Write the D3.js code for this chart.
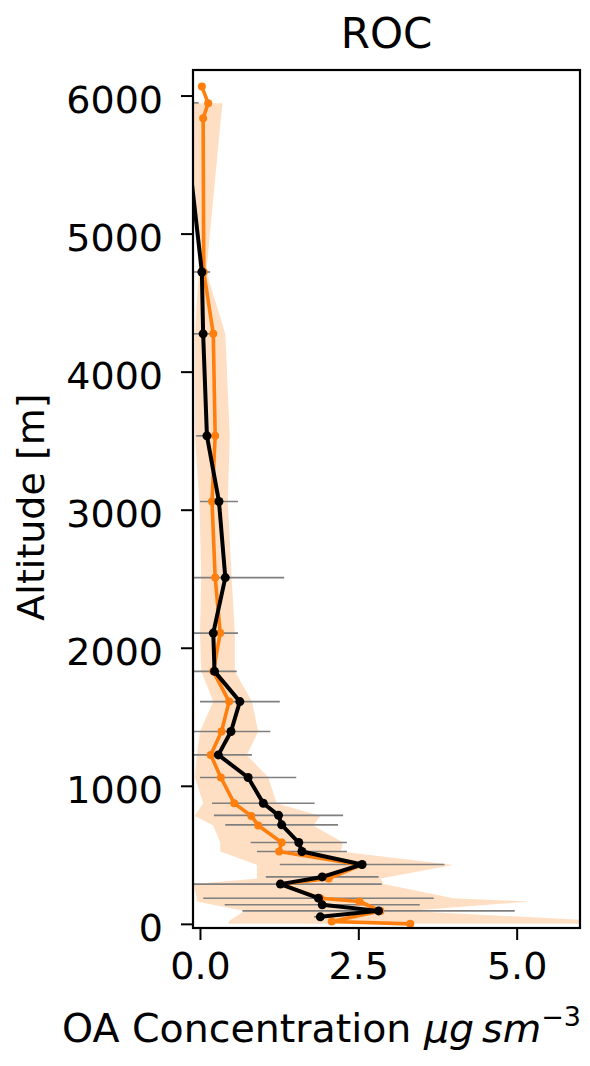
<!DOCTYPE html>
<html>
<head>
<meta charset="utf-8">
<script src="https://cdn.jsdelivr.net/npm/d3@7"></script>
<style>
  body { margin: 0; background: #fff; }
  text { font-family: "DejaVu Sans", sans-serif; fill: #000; }
</style>
</head>
<body>
<div id="chart"></div>
<script>
/*********************************
   ROC VERTICAL PROFILE DATA
 *********************************/

// Black Profile (Altitude m, OA, Error)
const blackAlt = [5947, 4722, 4274, 3535, 3059, 2508, 2106, 1829, 1610, 1393, 1224, 1060, 874, 786, 717, 589, 524, 430, 340, 288, 186, 138, 94, 51];
const blackVal = [-0.27, 0.03, 0.05, 0.11, 0.30, 0.40, 0.21, 0.23, 0.63, 0.49, 0.29, 0.76, 1.00, 1.24, 1.29, 1.56, 1.61, 2.56, 1.93, 1.27, 1.87, 1.93, 2.82, 1.90];
const blackErr = [0.25, 0.13, 0.18, 0.17, 0.30, 0.93, 0.39, 0.35, 0.63, 0.62, 0.53, 0.76, 0.81, 1.02, 0.89, 0.76, 0.71, 1.30, 0.89, 1.60, 1.82, 1.54, 2.15, 0.10];

// Orange Profile (Altitude m, OA)
const orangeAlt = [6065, 5944, 5836, 4722, 4274, 3535, 3059, 2508, 2106, 1829, 1610, 1393, 1224, 1060, 874, 782, 713, 589, 524, 427, 328, 288, 186, 162, 94, 17, 0];
const orangeVal = [0.03, 0.13, 0.05, 0.06, 0.21, 0.24, 0.19, 0.24, 0.32, 0.21, 0.46, 0.34, 0.17, 0.33, 0.54, 0.81, 0.92, 1.29, 1.25, 2.55, 2.03, 1.27, 1.90, 2.52, 2.85, 2.08, 3.32];

// Orange Shaded Range (Altitude m, Low, High)
const bandAlt = [5944, 5836, 4722, 4274, 3535, 3059, 2508, 2106, 1829, 1610, 1393, 1224, 1060, 874, 782, 713, 589, 524, 427, 328, 288, 186, 162, 94, 17, 0];
const bandLo = [-0.15, -0.15, -0.02, -0.08, -0.08, -0.01, 0.02, 0.0, 0.02, 0.21, 0.0, -0.05, -0.08, 0.05, -0.08, 0.21, 0.32, 0.32, 0.9, 0.9, -0.1, -0.05, -0.05, 0.7, 0.45, 0.45];
const bandHi = [0.36, 0.33, 0.10, 0.40, 0.47, 0.44, 0.50, 0.55, 0.55, 0.82, 0.92, 0.74, 1.08, 1.21, 1.9, 1.79, 2.26, 2.22, 4.0, 2.85, 2.9, 4.0, 5.2, 3.3, 6.5, 6.5];

// Axis Ticks
const xTicks = [0, 2.5, 5.0];
const yTicks = [0, 1000, 2000, 3000, 4000, 5000, 6000];

// Initialise Dimensions
const W = 590, H = 1066;
const mLeft = 193, mRight = 580, mTop = 70, mBottom = 928;
const fontSize = 38;

// Render SVG On DOM
const svg = d3.select("#chart").append("svg").attr("width", W).attr("height", H);

// Scales
const x = d3.scaleLinear().domain([-0.11, 6.0]).range([mLeft, mRight]);
const y = d3.scaleLinear().domain([-30, 6185]).range([mBottom, mTop]);

// Clip To Axes Area
svg.append("defs").append("clipPath").attr("id", "plotClip")
  .append("rect").attr("x", mLeft).attr("y", mTop).attr("width", mRight - mLeft).attr("height", mBottom - mTop);
const plot = svg.append("g").attr("clip-path", "url(#plotClip)");

// Shaded Range
const band = bandAlt.map((a, i) => ({ a: a, lo: bandLo[i], hi: bandHi[i] }));
plot.append("path").datum(band)
  .attr("d", d3.area().y(d => y(d.a)).x0(d => x(d.lo)).x1(d => x(d.hi)))
  .attr("fill", "#ff7f0e").attr("fill-opacity", 0.25);

// Error Bars For Black Profile
const blk = blackAlt.map((a, i) => ({ a: a, v: blackVal[i], e: blackErr[i] }));
plot.selectAll(".errbar").data(blk).enter().append("line").classed("errbar", true)
  .attr("x1", d => x(d.v - d.e)).attr("x2", d => x(d.v + d.e))
  .attr("y1", d => y(d.a)).attr("y2", d => y(d.a))
  .attr("stroke", "#7f7f7f").attr("stroke-width", 1.6);

// Orange Line & Markers
const org = orangeAlt.map((a, i) => ({ a: a, v: orangeVal[i] }));
plot.append("path").datum(org)
  .attr("d", d3.line().x(d => x(d.v)).y(d => y(d.a)))
  .attr("fill", "none").attr("stroke", "#ff7f0e").attr("stroke-width", 3.6).attr("stroke-linejoin", "round");
plot.selectAll(".odot").data(org).enter().append("circle").classed("odot", true)
  .attr("cx", d => x(d.v)).attr("cy", d => y(d.a)).attr("r", 4).attr("fill", "#ff7f0e");

// Black Line & Markers
plot.append("path").datum(blk)
  .attr("d", d3.line().x(d => x(d.v)).y(d => y(d.a)))
  .attr("fill", "none").attr("stroke", "#000").attr("stroke-width", 4).attr("stroke-linejoin", "round");
plot.selectAll(".bdot").data(blk).enter().append("circle").classed("bdot", true)
  .attr("cx", d => x(d.v)).attr("cy", d => y(d.a)).attr("r", 4.5).attr("fill", "#000");

// Axes
const xAxis = svg.append("g").attr("transform", "translate(0," + mBottom + ")")
  .call(d3.axisBottom(x).tickValues(xTicks).tickFormat(d3.format(".1f")).tickSize(12).tickPadding(12));
const yAxis = svg.append("g").attr("transform", "translate(" + mLeft + ",0)")
  .call(d3.axisLeft(y).tickValues(yTicks).tickFormat(d3.format("d")).tickSize(12).tickPadding(18));
[xAxis, yAxis].forEach(g => {
  g.select(".domain").remove();
  g.selectAll(".tick line").attr("stroke", "#000").attr("stroke-width", 2);
  g.selectAll(".tick text").attr("font-size", fontSize).attr("font-family", "DejaVu Sans");
});
yAxis.selectAll(".tick text").attr("dy", "0.45em");

// Frame
svg.append("rect").attr("x", mLeft).attr("y", mTop).attr("width", mRight - mLeft).attr("height", mBottom - mTop)
  .attr("fill", "none").attr("stroke", "#000").attr("stroke-width", 2.2);

// Title
svg.append("text").text("ROC").attr("x", (mLeft + mRight) / 2).attr("y", 48)
  .attr("text-anchor", "middle").attr("font-size", 42);

// Y Label
svg.append("text").text("Altitude [m]").attr("transform", "translate(44,507) rotate(-90)")
  .attr("text-anchor", "middle").attr("font-size", fontSize);

// X Label With Math Units
const xl = svg.append("text").attr("x", 62).attr("y", 1042).attr("font-size", 39.5);
xl.append("tspan").text("OA Concentration ");
xl.append("tspan").text("\u03bcg").attr("font-style", "italic");
xl.append("tspan").text("\u2009");
xl.append("tspan").text("sm").attr("font-style", "italic");
xl.append("tspan").text("\u22123").attr("font-size", 27).attr("dy", -16);
</script>
</body>
</html>
